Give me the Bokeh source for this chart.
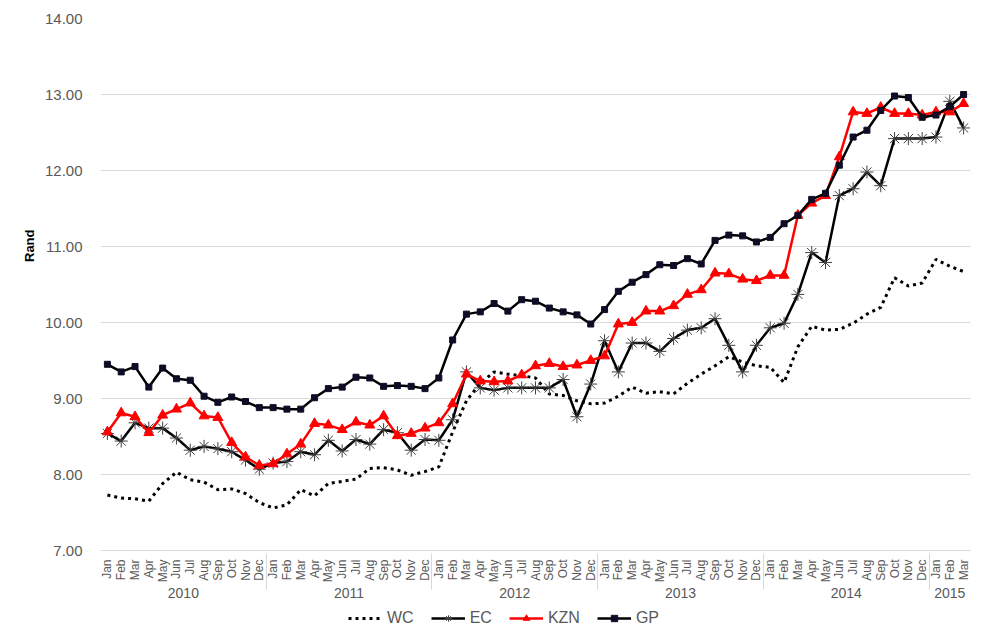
import math
from bokeh.plotting import figure
from bokeh.layouts import column
from bokeh.models import (FactorRange, Range1d, FixedTicker, NumeralTickFormatter,
                          Legend, LegendItem, Title)
from bokeh.embed import file_html
from bokeh.resources import INLINE

months = ["Jan", "Feb", "Mar", "Apr", "May", "Jun", "Jul", "Aug", "Sep", "Oct", "Nov", "Dec"]
years = ["2010", "2011", "2012", "2013", "2014", "2015"]
months_2015 = ["Jan", "Feb", "Mar"]

wc = [7.73, 7.69, 7.68, 7.65, 7.88, 8.03, 7.93, 7.90, 7.80, 7.81, 7.75, 7.63,
      7.56, 7.60, 7.80, 7.72, 7.88, 7.91, 7.94, 8.08, 8.09, 8.06, 7.99, 8.04,
      8.10, 8.56, 8.97, 9.20, 9.35, 9.32, 9.30, 9.27, 9.06, 9.04, 8.97, 8.93,
      8.94, 9.03, 9.15, 9.07, 9.09, 9.06, 9.20, 9.32, 9.43, 9.55, 9.48, 9.43,
      9.41, 9.21, 9.68, 9.95, 9.90, 9.91, 9.99, 10.11, 10.20, 10.59, 10.48, 10.52,
      10.83, 10.74, 10.67]

ec = [8.54, 8.44, 8.68, 8.61, 8.61, 8.48, 8.32, 8.37, 8.34, 8.30, 8.19, 8.07,
      8.15, 8.17, 8.30, 8.26, 8.45, 8.31, 8.46, 8.40, 8.59, 8.55, 8.32, 8.46,
      8.45, 8.72, 9.35, 9.14, 9.11, 9.14, 9.14, 9.14, 9.14, 9.25, 8.76, 9.19,
      9.76, 9.35, 9.73, 9.73, 9.62, 9.79, 9.90, 9.93, 10.05, 9.70, 9.35, 9.70,
      9.93, 9.99, 10.37, 10.92, 10.79, 11.67, 11.76, 11.98, 11.80, 12.42, 12.42, 12.42,
      12.44, 12.91, 12.56]

kzn = [8.56, 8.81, 8.76, 8.55, 8.78, 8.86, 8.94, 8.77, 8.75, 8.42, 8.23, 8.12,
       8.14, 8.27, 8.40, 8.67, 8.65, 8.59, 8.69, 8.65, 8.77, 8.51, 8.54, 8.61,
       8.68, 8.93, 9.32, 9.23, 9.22, 9.23, 9.31, 9.43, 9.46, 9.42, 9.44, 9.50,
       9.56, 9.98, 10.00, 10.15, 10.15, 10.22, 10.37, 10.43, 10.65, 10.64, 10.57, 10.55,
       10.62, 10.62, 11.41, 11.57, 11.67, 12.18, 12.77, 12.75, 12.83, 12.75, 12.75, 12.73,
       12.77, 12.77, 12.88]

gp = [9.45, 9.35, 9.42, 9.15, 9.40, 9.26, 9.24, 9.03, 8.95, 9.02, 8.96, 8.88,
      8.88, 8.86, 8.86, 9.01, 9.13, 9.15, 9.28, 9.27, 9.16, 9.17, 9.16, 9.13,
      9.27, 9.77, 10.11, 10.14, 10.25, 10.15, 10.30, 10.28, 10.19, 10.14, 10.10, 9.98,
      10.17, 10.41, 10.53, 10.63, 10.76, 10.75, 10.84, 10.77, 11.08, 11.15, 11.14, 11.06,
      11.12, 11.30, 11.41, 11.62, 11.70, 12.07, 12.44, 12.53, 12.79, 12.98, 12.96, 12.70,
      12.73, 12.84, 13.00]

y_ticks = [7, 8, 9, 10, 11, 12, 13, 14]
series_names = ["WC", "EC", "KZN", "GP"]

factors = [(y, m) for y in years[:-1] for m in months] + [(years[-1], m) for m in months_2015]

FONT = "Liberation Sans"
GRID = "#d9d9d9"
TXT = "#595959"


def add_series(fig):
    r_wc = fig.line(factors, wc, line_color="black", line_width=3, line_dash="3 4")
    r_ec = fig.line(factors, ec, line_color="black", line_width=2.5)
    m_ec = fig.scatter(factors, ec, marker="asterisk", size=13, line_color="#404040", line_width=1)
    r_kzn = fig.line(factors, kzn, line_color="#ff0000", line_width=2.5)
    m_kzn = fig.scatter(factors, kzn, marker="triangle", size=10, fill_color="#ff0000",
                        line_color="#ff0000")
    r_gp = fig.line(factors, gp, line_color="black", line_width=2.5)
    m_gp = fig.scatter(factors, gp, marker="square", size=6, fill_color="#0d0d26",
                       line_color="#0d0d26")
    return [[r_wc], [r_ec, m_ec], [r_kzn, m_kzn], [r_gp, m_gp]]


p = figure(width=972, height=608, output_backend="svg", toolbar_location=None,
           x_range=FactorRange(*factors, group_padding=0, factor_padding=0, range_padding=0),
           y_range=Range1d(7, 14),
           min_border_left=100, min_border_right=2, min_border_top=18, min_border_bottom=58)
p.outline_line_color = None
p.background_fill_color = "white"
p.border_fill_color = "white"

# Y axis
p.yaxis.ticker = FixedTicker(ticks=y_ticks)
p.yaxis.formatter = NumeralTickFormatter(format="0.00")
p.yaxis.axis_line_color = None
p.yaxis.major_tick_line_color = None
p.yaxis.minor_tick_line_color = None
p.yaxis.major_label_text_font = FONT
p.yaxis.major_label_text_font_size = "15px"
p.yaxis.major_label_text_color = TXT
p.yaxis.major_label_standoff = 12

p.add_layout(Title(text="Rand", align="right", offset=211, text_font=FONT,
                   text_font_size="13px", text_font_style="bold", text_color="black",
                   standoff=10), "left")

# X axis
p.xaxis.axis_line_color = GRID
p.xaxis.major_tick_line_color = None
p.xaxis.minor_tick_line_color = None
p.xaxis.major_label_orientation = math.pi / 2
p.xaxis.major_label_text_font = FONT
p.xaxis.major_label_text_font_size = "12px"
p.xaxis.major_label_text_color = TXT
p.xaxis.major_label_standoff = 3
p.xaxis.group_text_font = FONT
p.xaxis.group_text_font_size = "14px"
p.xaxis.group_text_color = TXT
p.xaxis.group_text_font_style = "normal"
p.xaxis.separator_line_color = GRID
p.xaxis.separator_line_width = 1

p.xgrid.grid_line_color = None
p.ygrid.grid_line_color = GRID
p.ygrid.grid_line_width = 1

add_series(p)

# Legend strip (same series, drawn out of view; only the legend shows)
lg = figure(width=972, height=20, output_backend="svg", toolbar_location=None,
            x_range=FactorRange(*factors, group_padding=0, factor_padding=0, range_padding=0),
            y_range=Range1d(0, 1), x_axis_type=None, y_axis_type=None,
            min_border_left=0, min_border_right=0, min_border_top=0, min_border_bottom=0)
lg.outline_line_color = None
lg.grid.visible = False
legend_renderers = add_series(lg)

legend = Legend(items=[LegendItem(label=n, renderers=r)
                       for n, r in zip(series_names, legend_renderers)],
                orientation="horizontal", location=(248, 1),
                label_text_font=FONT, label_text_font_size="16px", label_text_color=TXT,
                glyph_width=34, glyph_height=16, label_standoff=5, spacing=17,
                label_height=16, border_line_color=None, background_fill_alpha=0,
                padding=1, margin=0)
lg.add_layout(legend, "center")

layout = column(p, lg, spacing=0)
open("out.html", "w").write(file_html(layout, INLINE))
